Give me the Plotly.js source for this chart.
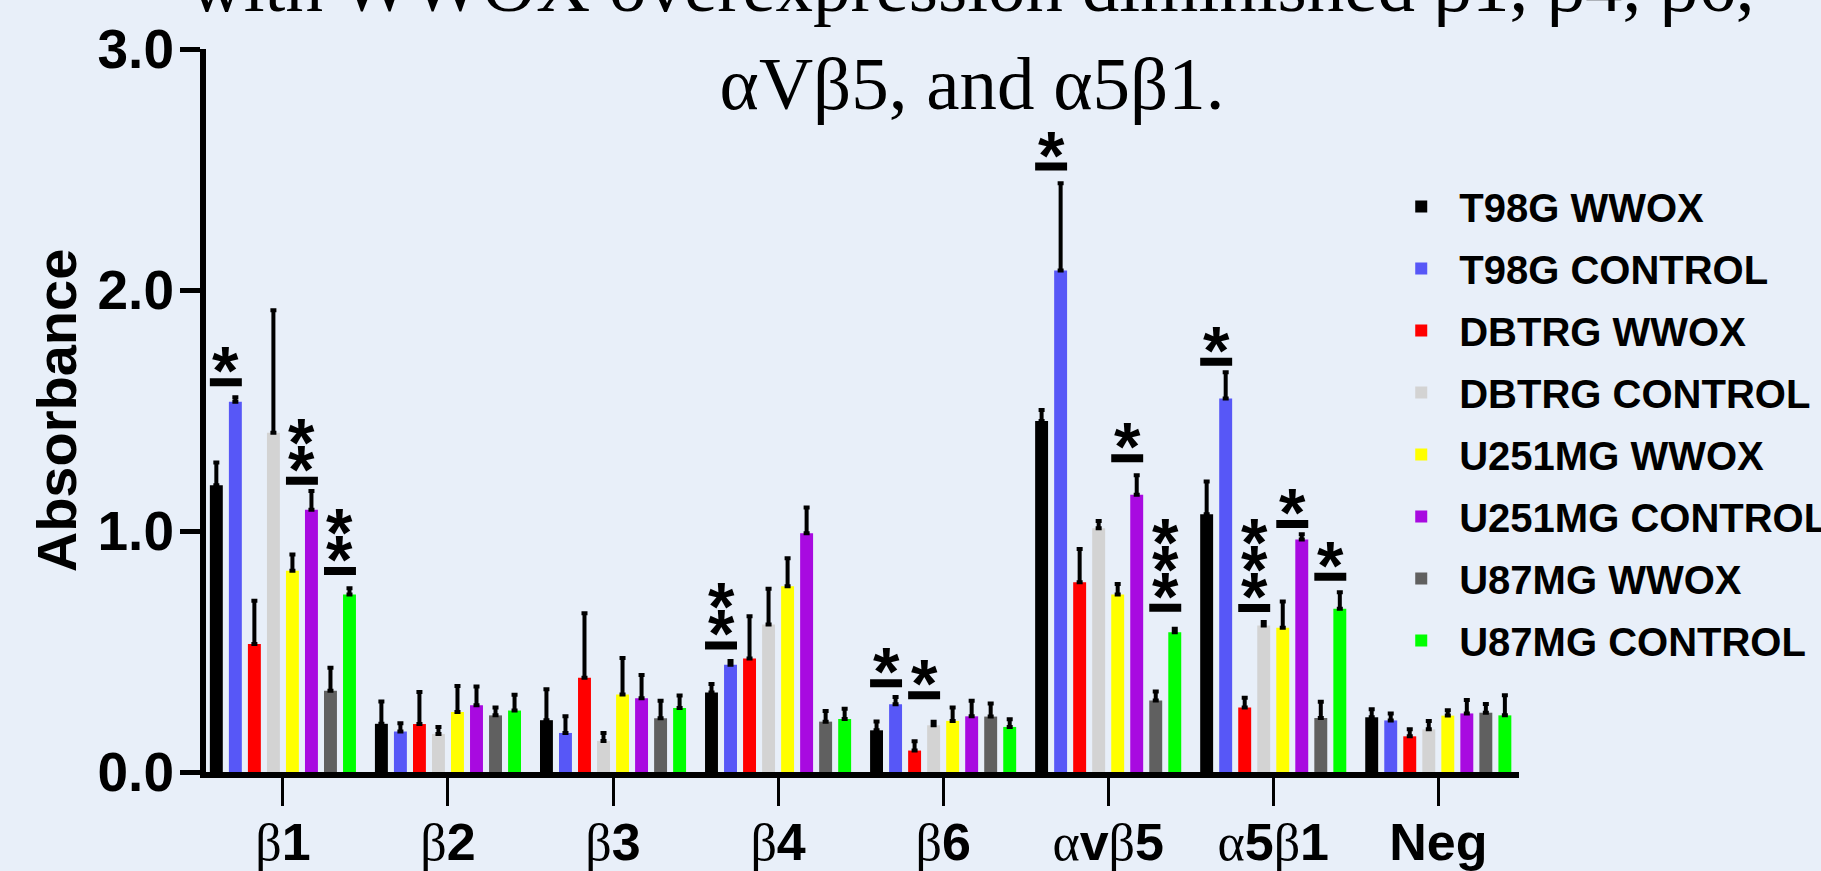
<!DOCTYPE html>
<html>
<head>
<meta charset="utf-8">
<script src="https://cdn.plot.ly/plotly-3.0.1.min.js"></script>
<style>
  html, body { margin: 0; padding: 0; background: #E8EFF9; }
  #chart { width: 1821px; height: 871px; }
</style>
</head>
<body>
<div id="chart"></div>
<script>
// ---------- data ----------
const categories = ['β1', 'β2', 'β3', 'β4', 'β6', 'αvβ5', 'α5β1', 'Neg'];

const seriesNames = ['T98G WWOX', 'T98G CONTROL', 'DBTRG WWOX', 'DBTRG CONTROL',
                     'U251MG WWOX', 'U251MG CONTROL', 'U87MG WWOX', 'U87MG CONTROL'];
const seriesColors = ['#000000', '#5757F7', '#FF0000', '#D3D3D3',
                      '#FFFF00', '#A80AE0', '#606060', '#00FF00'];

const t98gWwox       = [1.190, 0.200, 0.215, 0.330, 0.173, 1.456, 1.070, 0.227];
const t98gWwoxErr    = [0.094, 0.093, 0.128, 0.035, 0.037, 0.046, 0.135, 0.033];
const t98gControl    = [1.536, 0.168, 0.162, 0.445, 0.281, 2.081, 1.550, 0.214];
const t98gControlErr = [0.019, 0.034, 0.069, 0.016, 0.030, 0.362, 0.109, 0.029];
const dbtrgWwox       = [0.531, 0.199, 0.391, 0.471, 0.089, 0.787, 0.268, 0.148];
const dbtrgWwoxErr    = [0.180, 0.133, 0.268, 0.175, 0.039, 0.138, 0.040, 0.029];
const dbtrgControl    = [1.408, 0.158, 0.129, 0.612, 0.194, 1.011, 0.608, 0.177];
const dbtrgControlErr = [0.508, 0.029, 0.033, 0.148, 0.014, 0.031, 0.014, 0.035];
const u251Wwox       = [0.835, 0.249, 0.322, 0.771, 0.212, 0.736, 0.599, 0.234];
const u251WwoxErr    = [0.068, 0.108, 0.151, 0.116, 0.056, 0.044, 0.108, 0.022];
const u251Control    = [1.088, 0.277, 0.306, 0.991, 0.231, 1.150, 0.965, 0.243];
const u251ControlErr = [0.078, 0.078, 0.096, 0.107, 0.065, 0.081, 0.022, 0.056];
const u87Wwox       = [0.337, 0.235, 0.223, 0.209, 0.230, 0.297, 0.224, 0.246];
const u87WwoxErr    = [0.096, 0.033, 0.073, 0.044, 0.054, 0.037, 0.067, 0.036];
const u87Control    = [0.736, 0.255, 0.266, 0.220, 0.187, 0.580, 0.677, 0.235];
const u87ControlErr = [0.026, 0.066, 0.051, 0.042, 0.032, 0.014, 0.069, 0.083];

// significance markers: category, left series of the compared pair, number of stars, bar level
const sigCategory = ['β1', 'β1', 'β1', 'β4', 'β6', 'β6', 'αvβ5', 'αvβ5', 'αvβ5', 'α5β1', 'α5β1', 'α5β1', 'α5β1'];
const sigSeries   = [0, 4, 6, 0, 0, 2, 0, 4, 6, 0, 2, 4, 6];
const sigStars    = [1, 2, 2, 2, 1, 1, 1, 1, 3, 1, 3, 1, 1];
const sigLevel    = [1.617, 1.208, 0.834, 0.525, 0.368, 0.318, 2.512, 1.302, 0.682, 1.702, 0.681, 1.029, 0.810];

const yTickVals = [0, 1, 2, 3];
const yTickText = ['0.0', '1.0', '2.0', '3.0'];

// ---------- build ----------
const values = [t98gWwox, t98gControl, dbtrgWwox, dbtrgControl, u251Wwox, u251Control, u87Wwox, u87Control];
const errors = [t98gWwoxErr, t98gControlErr, dbtrgWwoxErr, dbtrgControlErr, u251WwoxErr, u251ControlErr, u87WwoxErr, u87ControlErr];

const BARGAP = 0.078, BARGROUPGAP = 0.32;
const nSeries = seriesNames.length;
const slot = (1 - BARGAP) / nSeries;

const traces = values.map((v, i) => ({
  type: 'bar',
  name: seriesNames[i],
  x: categories,
  y: v,
  legendgroup: 'g' + i,
  marker: { color: seriesColors[i], line: { width: 0 } },
  error_y: {
    type: 'data', symmetric: false,
    array: errors[i], arrayminus: errors[i].map(() => 0),
    color: '#000000', thickness: 4, width: 3
  },
  hoverinfo: 'x+y+name'
}));

const shapes = [];
const annotations = [];
sigCategory.forEach((c, j) => {
  const ci = categories.indexOf(c);
  const center = ci + (sigSeries[j] + 1 - nSeries / 2) * slot;
  const half = (slot + slot * (1 - BARGROUPGAP)) / 2;
  shapes.push({
    type: 'line', xref: 'x', yref: 'y',
    x0: center - half, x1: center + half, y0: sigLevel[j], y1: sigLevel[j],
    line: { color: '#000000', width: 8 }
  });
  for (let s = 0; s < sigStars[j]; s++) {
    annotations.push({
      xref: 'x', yref: 'y', x: center, y: sigLevel[j],
      text: '*', showarrow: false,
      xanchor: 'center', yanchor: 'bottom',
      yshift: -28 + s * 27,
      font: { family: 'Liberation Sans, Arial, sans-serif', size: 68, weight: 'bold', color: '#000000' }
    });
  }
});

const greek = s => s.replace(/([αβ])/g, '<span style="font-family:Liberation Serif;font-weight:normal">$1</span>');

const layout = {
  width: 1821, height: 871,
  paper_bgcolor: '#E8EFF9', plot_bgcolor: '#E8EFF9',
  margin: { l: 206, r: 302, t: 49, b: 99, pad: 0, autoexpand: false },
  barmode: 'group', bargap: BARGAP, bargroupgap: BARGROUPGAP,
  showlegend: true,
  title: {
    text: 'with WWOX overexpression diminished β1, β4, β6,<br>αVβ5, and α5β1.',
    font: { family: 'Liberation Serif, Times New Roman, serif', size: 75, color: '#000000' },
    xref: 'container', x: 0.5338, xanchor: 'center',
    yref: 'container', y: 0.987, yanchor: 'middle'
  },
  xaxis: {
    type: 'category',
    range: [-0.466, 7.489],
    showgrid: false, zeroline: false,
    showline: true, linecolor: '#000000', linewidth: 6,
    ticks: 'outside', ticklen: 28, tickwidth: 3, tickcolor: '#000000',
    tickmode: 'array', tickvals: categories, ticktext: categories.map(greek),
    tickfont: { family: 'Liberation Sans Narrow, Liberation Sans, Arial, sans-serif', size: 52, weight: 'bold', color: '#000000' },
    ticklabelstandoff: -8,
    fixedrange: true
  },
  yaxis: {
    range: [0, 3],
    showgrid: false, zeroline: false,
    showline: true, linecolor: '#000000', linewidth: 6,
    ticks: 'outside', ticklen: 20, tickwidth: 5, tickcolor: '#000000',
    tickmode: 'array', tickvals: yTickVals, ticktext: yTickText,
    tickfont: { family: 'Liberation Sans, Arial, sans-serif', size: 55, weight: 'bold', color: '#000000' },
    ticklabelstandoff: -5,
    title: {
      text: 'Absorbance', standoff: 5,
      font: { family: 'Liberation Sans, Arial, sans-serif', size: 56, weight: 'bold', color: '#000000' }
    },
    fixedrange: true
  },
  legend: {
    x: 0.8966, xanchor: 'left', y: 0.827, yanchor: 'top',
    bgcolor: 'rgba(0,0,0,0)', borderwidth: 0,
    font: { family: 'Liberation Sans, Arial, sans-serif', size: 40, weight: 'bold', color: '#000000' },
    itemwidth: 66, tracegroupgap: 7, traceorder: 'grouped'
  },
  shapes: shapes,
  annotations: annotations
};

Plotly.newPlot('chart', traces, layout, { displayModeBar: false, staticPlot: true });
</script>
</body>
</html>
